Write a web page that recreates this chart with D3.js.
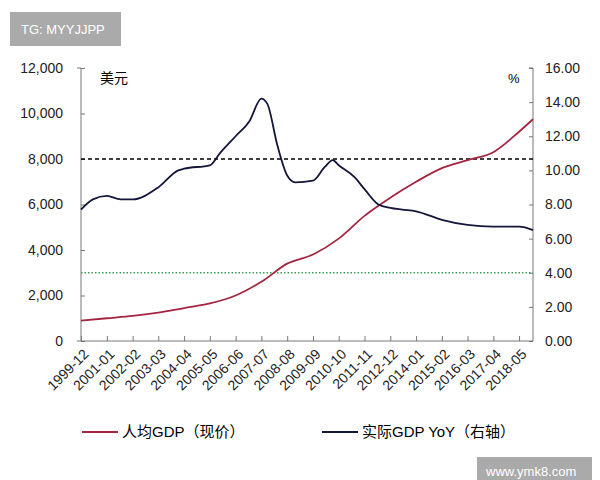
<!DOCTYPE html>
<html><head><meta charset="utf-8">
<script src="https://cdn.jsdelivr.net/npm/d3@7"></script>
<style>body{margin:0;background:#fff}text{font-family:"Liberation Sans",Arial,"Noto Sans CJK SC",sans-serif}</style>
</head><body><svg id="c" width="600" height="480"></svg>
<script>
const tickLabels=["1999-12","2001-01","2002-02","2003-03","2004-04","2005-05","2006-06","2007-07","2008-08","2009-09","2010-10","2011-11","2012-12","2014-01","2015-02","2016-03","2017-04","2018-05"];
const gdpDates=["1999-12","2001-01","2002-02","2003-03","2004-04","2005-05","2006-06","2007-07","2008-08","2009-09","2010-10","2011-11","2012-12","2014-01","2015-02","2016-03","2017-04","2018-05","2018-12"];
const gdpPerCapita=[900,1000,1100,1250,1450,1650,2000,2600,3400,3800,4500,5500,6300,7000,7600,7950,8300,9200,9750];
const yoyDates=["1999-12","2000-06","2001-01","2001-08","2002-02","2003-03","2004-01","2004-04","2005-05","2005-10","2006-06","2007-01","2007-07","2007-10","2008-03","2008-08","2008-12","2009-09","2010-03","2010-07","2010-10","2011-06","2011-11","2012-06","2012-12","2013-06","2014-01","2015-02","2016-03","2017-04","2018-05","2018-12"];
const gdpYoY=[7.7,8.3,8.5,8.3,8.3,9.0,10.0,10.1,10.3,11.0,12.0,12.9,14.2,13.9,11.5,9.7,9.3,9.4,10.2,10.6,10.3,9.6,8.9,8.0,7.8,7.7,7.6,7.1,6.8,6.7,6.7,6.5];
const leftTicks=[0,2000,4000,6000,8000,10000,12000];
const rightTicks=[0,2,4,6,8,10,12,14,16];
const refLines=[8000,3000];

const p=d3.timeParse("%Y-%m");
const svg=d3.select("#c");
const L=81,R=533,T=68,B=341;
const x=d3.scaleTime().domain([p("1999-12"),p("2018-12")]).range([L,R]);
const yL=d3.scaleLinear().domain([0,12000]).range([B,T]);
const yR=d3.scaleLinear().domain([0,16]).range([B,T]);

const gl=svg.append("g").attr("transform",`translate(${L},0)`).call(d3.axisLeft(yL).tickValues(leftTicks).tickFormat(d3.format(",")).tickSize(-4).tickPadding(18));
const gr=svg.append("g").attr("transform",`translate(${R},0)`).call(d3.axisRight(yR).tickValues(rightTicks).tickFormat(d3.format(".2f")).tickSize(-4).tickPadding(12));
const gb=svg.append("g").attr("transform",`translate(0,${B})`).call(d3.axisBottom(x).tickValues(tickLabels.map(p)).tickFormat(d3.timeFormat("%Y-%m")).tickSize(-5).tickSizeOuter(0));
gb.selectAll("text").attr("transform","rotate(-45)").attr("text-anchor","end").attr("dx","-0.3em").attr("dy","0.9em");
svg.selectAll(".domain,.tick line").attr("stroke","#777");
svg.selectAll(".tick text").attr("font-size",14).attr("fill","#222");
gl.select(".domain").attr("d",`M-4,${T}H0V${B}H-4`);
gr.select(".domain").attr("d",`M-4,${T}H0V${B}`);
gb.select(".domain").attr("d",`M${L},0H${R}`);

svg.append("line").attr("x1",L).attr("x2",R).attr("y1",yL(refLines[0])).attr("y2",yL(refLines[0])).attr("stroke","#000").attr("stroke-width",1.3).attr("stroke-dasharray","4,3");
svg.append("line").attr("x1",L).attr("x2",R).attr("y1",yL(refLines[1])).attr("y2",yL(refLines[1])).attr("stroke","#3a9a5a").attr("stroke-width",1.3).attr("stroke-dasharray","1.5,2");

const line1=d3.line().x((d,i)=>x(p(gdpDates[i]))).y(d=>yL(d)).curve(d3.curveMonotoneX);
svg.append("path").attr("d",line1(gdpPerCapita)).attr("fill","none").attr("stroke","#a3253f").attr("stroke-width",1.8);
const line2=d3.line().x((d,i)=>x(p(yoyDates[i]))).y(d=>yR(d)).curve(d3.curveMonotoneX);
svg.append("path").attr("d",line2(gdpYoY)).attr("fill","none").attr("stroke","#14163a").attr("stroke-width",1.8);

svg.append("text").attr("x",100).attr("y",83).attr("font-size",14).text("美元");
svg.append("text").attr("x",508).attr("y",83).attr("font-size",13).text("%");

svg.append("line").attr("x1",82).attr("x2",118).attr("y1",432).attr("y2",432).attr("stroke","#a3253f").attr("stroke-width",2);
svg.append("text").attr("x",122).attr("y",437).attr("font-size",15).text("人均GDP（现价）");
svg.append("line").attr("x1",322).attr("x2",358).attr("y1",432).attr("y2",432).attr("stroke","#14163a").attr("stroke-width",2);
svg.append("text").attr("x",362).attr("y",437).attr("font-size",15).text("实际GDP YoY（右轴）");

svg.append("rect").attr("x",10).attr("y",12).attr("width",111).attr("height",34).attr("fill","#aaa");
svg.append("text").attr("x",21).attr("y",34).attr("font-size",13).attr("fill","#fff").text("TG: MYYJJPP");
svg.append("rect").attr("x",477).attr("y",457).attr("width",115).attr("height",34).attr("fill","#aaa");
svg.append("text").attr("x",486).attr("y",476).attr("font-size",13).attr("fill","#fff").text("www.ymk8.com");
</script></body></html>
